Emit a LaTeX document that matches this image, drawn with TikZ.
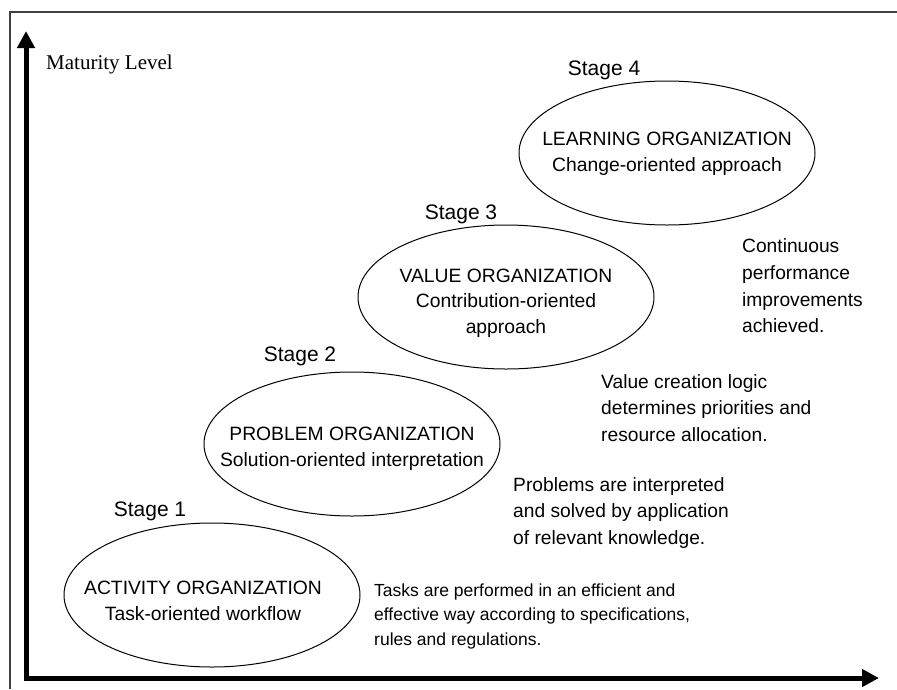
\documentclass[tikz,border=0pt]{standalone}
\usepackage{fontspec}
\setmainfont{Liberation Serif}
\setsansfont{Liberation Sans}
\usetikzlibrary{arrows.meta,shapes.geometric}
\tikzset{
  frameline/.style={draw=black!75, line width=1.4pt},
  axisline/.style={line width=5pt, line join=miter, {Triangle[length=17pt,width=17pt]}-{Triangle[length=17pt,width=17pt]}},
  ell/.style={draw, ellipse, line width=1pt, minimum width=296pt, minimum height=144pt, inner sep=0pt},
  etxt/.style={font=\sffamily\fontsize{19.3}{25.5}\selectfont, align=center, inner sep=0pt},
  stagetxt/.style={font=\sffamily\fontsize{21}{26}\selectfont, inner sep=0pt},
  desc/.style={font=\sffamily\fontsize{19.2}{26.7}\selectfont, align=left, anchor=west, inner sep=0pt},
  descs/.style={font=\sffamily\fontsize{17.5}{24.5}\selectfont, align=left, anchor=west, inner sep=0pt},
}
\begin{document}
\begin{tikzpicture}[x=1pt,y=-1pt]
\useasboundingbox (0,0) rectangle (897,689);
% frame
\coordinate (ftr) at (897,12);
\coordinate (ftl) at (10,12);
\coordinate (fbl) at (10,689);
\draw[frameline] (ftr) -- (ftl) -- (fbl);
% axes
\coordinate (ytip) at (26,31);
\coordinate (orig) at (26,678);
\coordinate (xtip) at (879,678);
\draw[axisline] (ytip) -- (orig) -- (xtip);
\node[font=\rmfamily\fontsize{21}{24}\selectfont, anchor=west, inner sep=0pt] (ml) at (46,64) {Maturity Level};
% stage 4
\node[stagetxt] (s4) at (604,70) {Stage 4};
\node[ell] (e4) at (667,153) {};
\node[etxt] (t4) at (667,154) {LEARNING ORGANIZATION\\Change-oriented approach};
\node[desc] (d4) at (742,286) {Continuous\\performance\\improvements\\achieved.};
% stage 3
\node[stagetxt] (s3) at (461,214) {Stage 3};
\node[ell] (e3) at (506,297) {};
\node[etxt] (t3) at (506,303) {VALUE ORGANIZATION\\Contribution-oriented\\approach};
\node[desc] (d3) at (601,408) {Value creation logic\\determines priorities and\\resource allocation.};
% stage 2
\node[stagetxt] (s2) at (300,356) {Stage 2};
\node[ell] (e2) at (352,444) {};
\node[etxt] (t2) at (352,449) {PROBLEM ORGANIZATION\\Solution-oriented interpretation};
\node[desc] (d2) at (513,513) {Problems are interpreted\\and solved by application\\of relevant knowledge.};
% stage 1
\node[stagetxt] (s1) at (150,511) {Stage 1};
\node[ell] (e1) at (212,595) {};
\node[etxt] (t1) at (203,601) {ACTIVITY ORGANIZATION\\Task-oriented workflow};
\node[descs] (d1) at (374,616) {Tasks are performed in an efficient and\\effective way according to specifications,\\rules and regulations.};
\end{tikzpicture}
\end{document}
